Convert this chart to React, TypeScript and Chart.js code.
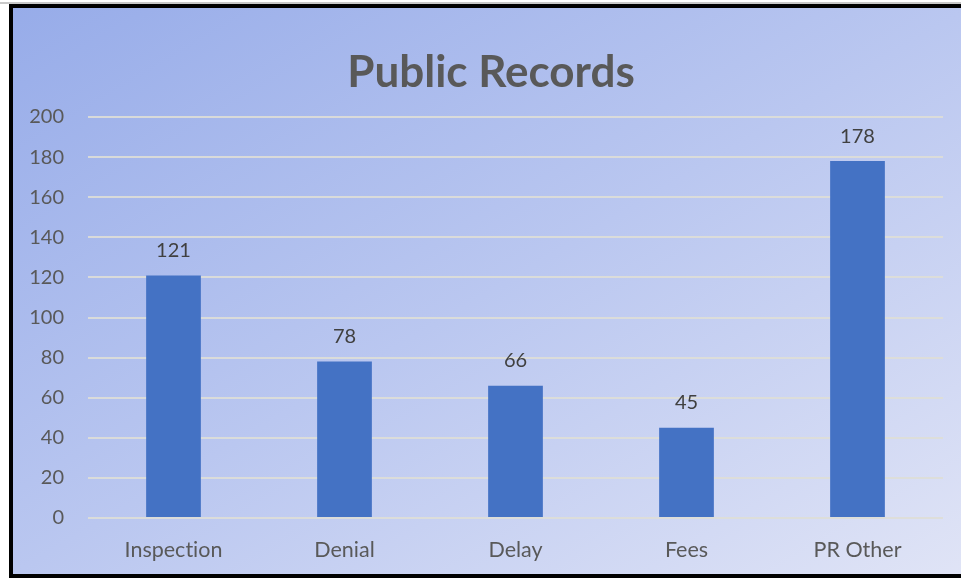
import React, { useEffect, useRef } from "react";
import { Chart, registerables } from "chart.js";

Chart.register(...registerables);

const categories = ["Inspection", "Denial", "Delay", "Fees", "PR Other"];
const values = [121, 78, 66, 45, 178];
const yTicks = [0, 20, 40, 60, 80, 100, 120, 140, 160, 180, 200];
const titleText = "Public Records";

const FONT = "Lato, 'Open Sans', sans-serif";

const noLigature = (s: string) => s.replace(/ti/g, "t\u200Ci");

const labelPlugin = {
  id: "valueLabels",
  afterDatasetsDraw(chart: any) {
    const ctx = chart.ctx;
    const meta = chart.getDatasetMeta(0);
    ctx.save();
    ctx.fillStyle = "#404040";
    ctx.font = `20px ${FONT}`;
    ctx.textAlign = "center";
    ctx.textBaseline = "middle";
    meta.data.forEach((bar: any, i: number) => {
      ctx.fillText(String(values[i]), bar.x, bar.y - 25);
    });
    ctx.restore();
  },
};

const titlePlugin = {
  id: "customTitle",
  afterDraw(chart: any) {
    const ctx = chart.ctx;
    ctx.save();
    ctx.fillStyle = "#595959";
    ctx.font = `bold 44px ${FONT}`;
    ctx.textAlign = "center";
    ctx.textBaseline = "middle";
    ctx.fillText(titleText, 491, 73);
    ctx.restore();
  },
};

export default function App() {
  const ref = useRef<HTMLCanvasElement>(null);
  useEffect(() => {
    document.body.style.margin = "0";
    const chart = new Chart(ref.current!, {
      type: "bar",
      data: {
        labels: categories,
        datasets: [
          {
            data: values,
            backgroundColor: "#4472C4",
            borderWidth: 0,
            categoryPercentage: 1,
            barPercentage: 0.32,
          },
        ],
      },
      options: {
        responsive: false,
        animation: false,
        layout: { padding: { top: 117, right: 18, left: 0, bottom: 0 } },
        plugins: {
          legend: { display: false },
          title: { display: false },
          tooltip: { enabled: false },
        },
        scales: {
          x: {
            grid: { display: false, drawTicks: false },
            border: { display: false },
            ticks: {
              color: "#595959",
              font: { family: FONT, size: 21.5 },
              padding: 19,
              callback: (_v: any, i: number) => noLigature(categories[i]),
            },
            afterFit: (s: any) => {
              s.height = 60;
            },
          },
          y: {
            min: 0,
            max: 200,
            afterBuildTicks: (s: any) => {
              s.ticks = yTicks.map((v) => ({ value: v }));
            },
            grid: { color: "rgba(222,222,215,0.9)", lineWidth: 2, drawTicks: false },
            border: { display: false },
            ticks: {
              color: "#595959",
              font: { family: FONT, size: 20 },
              padding: 24,
            },
            afterFit: (s: any) => {
              s.width = 88;
            },
          },
        },
      },
      plugins: [labelPlugin, titlePlugin],
    });
    return () => chart.destroy();
  }, []);

  return (
    <div style={{ position: "fixed", left: 0, top: 0, width: 961, height: 578, background: "#ffffff", overflow: "hidden" }}>
      <div style={{ position: "absolute", left: 0, top: 2, width: 961, height: 2, background: "#c8c8c8" }} />
      <div
        style={{
          position: "absolute",
          left: 9,
          top: 4,
          width: 961,
          height: 574,
          boxSizing: "border-box",
          borderLeft: "4px solid #000",
          borderTop: "4px solid #000",
          borderBottom: "4px solid #000",
          background: "linear-gradient(to bottom right, #97ace9 0%, #bac7f0 50%, #e0e4f6 100%)",
        }}
      />
      <canvas ref={ref} width={961} height={578} style={{ position: "absolute", left: 0, top: 0 }} />
    </div>
  );
}
